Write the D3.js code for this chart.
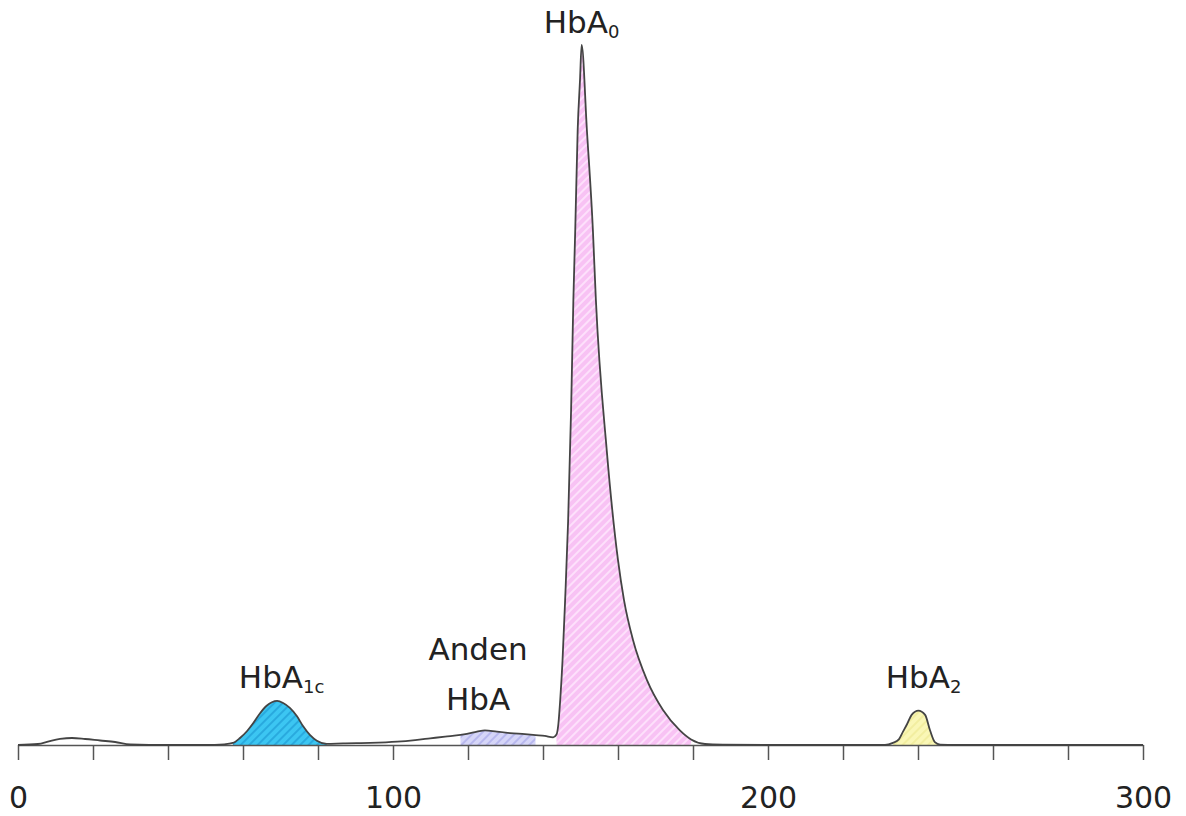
<!DOCTYPE html>
<html>
<head>
<meta charset="utf-8">
<script src="https://cdn.jsdelivr.net/npm/d3@7"></script>
<style>
  html, body { margin: 0; padding: 0; background: #fff; }
  svg { display: block; }
  text { font-family: "DejaVu Sans", sans-serif; fill: #222; }
</style>
</head>
<body>
<div id="chart"></div>
<script>
// chromatogram trace: [retention time, signal]
const trace = [
  [0, 0], [5.3, 0.14], [8.5, 0.57], [11.2, 0.86], [14.4, 1.0], [17.9, 0.86], [21.9, 0.64],
  [25.9, 0.43], [29.9, 0.07], [35, 0], [50, 0], [55, 0.1],
  [57.3, 0.29], [59.2, 1.0], [61.1, 2.0], [62.7, 3.1], [64.5, 4.5], [66.3, 5.6], [67.7, 6.1],
  [69.1, 6.3], [70.7, 6.0], [72.5, 5.3], [74.4, 4.1], [76.0, 2.7], [77.9, 1.4], [79.7, 0.6],
  [82.3, 0.15], [86.7, 0.24], [93.9, 0.3], [101.1, 0.47], [105.9, 0.7], [109.9, 0.95],
  [113.9, 1.2], [118, 1.45], [119.7, 1.6], [122.4, 1.9], [124.5, 2.1], [127.7, 1.9],
  [131.2, 1.7], [135.2, 1.55], [138, 1.42], [140.5, 1.3], [142.7, 1.1],
  [143.6, 1.5], [144.1, 3.0], [144.6, 6.5], [145.2, 12], [145.9, 20.7], [146.7, 32],
  [147.5, 48], [148.1, 63.6], [148.6, 73.6], [149.25, 87.9], [149.87, 95], [150.3, 100],
  [151.7, 87.9], [153.3, 73.6], [154.1, 63.6], [157.0, 42.1], [160.0, 26.4], [161.6, 20.7],
  [164.0, 15], [167.7, 9.3], [172.0, 5.0], [176.5, 2.1], [179.5, 0.8], [183.2, 0.14],
  [188, 0.05], [200, 0], [231.2, 0],
  [233.3, 0.3], [234.9, 0.8], [236.0, 1.9], [237.1, 3.0], [238.3, 4.3], [240.1, 4.9],
  [241.9, 4.3], [243.2, 2.1], [244.5, 0.4], [245.9, 0.05], [250, 0], [300, 0]
];

// integrated peak windows
const peakNames  = ["HbA1c", "Anden HbA", "HbA0", "HbA2"];
const peakStarts = [57.3, 118, 143.6, 233.3];
const peakEnds   = [82.3, 138, 179.5, 245.9];
const peakFills  = ["#3cc6f2", "#d6d6f8", "#f8c2f4", "#faf7b6"];
const peakHatch  = ["#1c98d2", "#b8b8ee", "#fde0fb", "#f2eea0"];

// peak labels: main text, subscript, position in data units, second line
const labelMain = ["HbA", "Anden", "HbA", "HbA"];
const labelSub  = ["1c", "", "0", "2"];
const labelLine2 = ["", "HbA", "", ""];
const labelTime = [70.3, 122.7, 150.3, 241.5];
const labelSignal = [8.14, 12.1, 101.7, 8.14];

const tickValues = d3.range(0, 301, 20);
const labelledTicks = [0, 100, 200, 300];

const width = 1186, height = 816;

const svg = d3.select("#chart").append("svg")
  .attr("width", width)
  .attr("height", height);

const x = d3.scaleLinear().domain([0, 300]).range([18, 1143]);
const y = d3.scaleLinear().domain([0, 100]).range([745, 45]);

// hatch patterns
const defs = svg.append("defs");
peakNames.forEach((name, i) => {
  const p = defs.append("pattern")
    .attr("id", "hatch" + i)
    .attr("patternUnits", "userSpaceOnUse")
    .attr("width", 6)
    .attr("height", 6)
    .attr("patternTransform", "rotate(45)");
  p.append("rect").attr("width", 6).attr("height", 6).attr("fill", peakFills[i]);
  p.append("line")
    .attr("x1", 1).attr("y1", 0).attr("x2", 1).attr("y2", 6)
    .attr("stroke", peakHatch[i])
    .attr("stroke-width", i === 0 ? 1.2 : 2);
});

const area = d3.area()
  .x(d => x(d[0]))
  .y0(y(0))
  .y1(d => y(d[1]))
  .curve(d3.curveMonotoneX);

const line = d3.line()
  .x(d => x(d[0]))
  .y(d => y(d[1]))
  .curve(d3.curveMonotoneX);

// filled peaks
peakNames.forEach((name, i) => {
  const seg = trace.filter(d => d[0] >= peakStarts[i] && d[0] <= peakEnds[i]);
  svg.append("path")
    .datum(seg)
    .attr("d", area)
    .attr("fill", "url(#hatch" + i + ")");
});

// axis
const axis = d3.axisBottom(x)
  .tickValues(tickValues)
  .tickSize(15)
  .tickSizeOuter(0)
  .tickFormat(d => labelledTicks.includes(d) ? d : "");

const gx = svg.append("g")
  .attr("transform", `translate(0,${y(0)})`)
  .call(axis);

gx.select(".domain").attr("stroke", "#555").attr("stroke-width", 1.5);
gx.selectAll(".tick line").attr("stroke", "#555").attr("stroke-width", 1.5);
gx.selectAll(".tick text")
  .attr("y", 63)
  .attr("dy", 0)
  .style("font-family", "'DejaVu Sans', sans-serif")
  .style("font-size", "30px")
  .attr("fill", "#222");

// trace line
svg.append("path")
  .datum(trace)
  .attr("d", line)
  .attr("fill", "none")
  .attr("stroke", "#444")
  .attr("stroke-width", 1.8)
  .attr("stroke-linejoin", "round");

// labels
labelMain.forEach((txt, i) => {
  const t = svg.append("text")
    .attr("x", x(labelTime[i]))
    .attr("y", y(labelSignal[i]))
    .attr("text-anchor", "middle")
    .style("font-size", "31px");
  t.append("tspan").text(txt);
  if (labelSub[i]) {
    t.append("tspan")
      .attr("dy", 5)
      .style("font-size", "18px")
      .text(labelSub[i]);
  }
  if (labelLine2[i]) {
    svg.append("text")
      .attr("x", x(labelTime[i]))
      .attr("y", y(labelSignal[i]) + 50)
      .attr("text-anchor", "middle")
      .style("font-size", "31px")
      .text(labelLine2[i]);
  }
});
</script>
</body>
</html>
